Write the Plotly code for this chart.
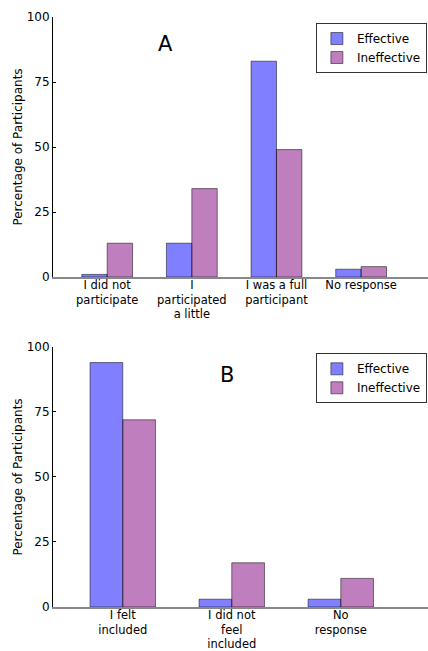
import plotly.graph_objects as go

cats_a = ["I did not<br>participate", "I<br>participated<br>a little", "I was a full<br>participant", "No response"]
eff_a = [1, 13, 83, 3]
ineff_a = [13, 34, 49, 4]

cats_b = ["I felt<br>included", "I did not<br>feel<br>included", "No<br>response"]
eff_b = [94, 3, 3]
ineff_b = [72, 17, 11]

series_names = ["Effective", "Ineffective"]
y_ticks = [0, 25, 50, 75, 100]

blue = "rgba(0,0,255,0.5)"
purple = "rgba(128,0,128,0.5)"
edge = dict(color="rgba(0,0,0,0.5)", width=1)
FONT = "DejaVu Sans"

fig = go.Figure()
fig.add_trace(go.Bar(x=cats_a, y=eff_a, name=series_names[0], marker=dict(color=blue, line=edge),
                     xaxis="x", yaxis="y", legend="legend"))
fig.add_trace(go.Bar(x=cats_a, y=ineff_a, name=series_names[1], marker=dict(color=purple, line=edge),
                     xaxis="x", yaxis="y", legend="legend"))
fig.add_trace(go.Bar(x=cats_b, y=eff_b, name=series_names[0], marker=dict(color=blue, line=edge),
                     xaxis="x2", yaxis="y2", legend="legend2"))
fig.add_trace(go.Bar(x=cats_b, y=ineff_b, name=series_names[1], marker=dict(color=purple, line=edge),
                     xaxis="x2", yaxis="y2", legend="legend2"))

H_TOP, H_BOT = 0.5593, 0.4407

xcommon = dict(showline=True, linecolor="#888888", linewidth=1.5, ticks="", showgrid=False,
               zeroline=False, automargin=False, ticklabelstandoff=-4,
               tickfont=dict(size=11.5, color="black", family=FONT))
ycommon = dict(range=[0, 100], tickvals=y_ticks, ticks="inside", ticklen=3, tickcolor="black",
               showline=True, linecolor="black", linewidth=1, showgrid=False, zeroline=False,
               automargin=False,
               tickfont=dict(size=12, color="black", family=FONT),
               title=dict(text="Percentage of Participants", font=dict(size=12, color="black", family=FONT),
                          standoff=1))

legcommon = dict(x=0.997, xanchor="right", yanchor="top", bgcolor="white", bordercolor="#333333",
                 borderwidth=1, font=dict(size=12, color="black", family=FONT), tracegroupgap=0)

fig.update_layout(
    width=428, height=651,
    margin=dict(l=53, r=0, t=17, b=44, autoexpand=False),
    paper_bgcolor="white", plot_bgcolor="white",
    font=dict(family=FONT, color="black"),
    barmode="group", bargap=0.4, bargroupgap=0,
    xaxis=dict(domain=[0, 1], anchor="y", range=[-0.64, 3.79], **xcommon),
    yaxis=dict(domain=[H_TOP, 1], anchor="x", **ycommon),
    xaxis2=dict(domain=[0, 1], anchor="y2", range=[-0.64, 2.8], **xcommon),
    yaxis2=dict(domain=[0, H_BOT], anchor="x2", **ycommon),
    legend=dict(y=0.9898, **legcommon),
    legend2=dict(y=0.430, **legcommon),
    annotations=[
        dict(text="A", x=0.301, y=0.954, xref="paper", yref="paper", showarrow=False,
             xanchor="center", yanchor="middle",
             font=dict(size=21, color="black", family=FONT)),
        dict(text="B", x=0.464, y=0.3932, xref="paper", yref="paper", showarrow=False,
             xanchor="center", yanchor="middle",
             font=dict(size=21, color="black", family=FONT)),
    ],
)

fig.write_html(
    "out.html",
    config={"displayModeBar": False},
    post_script=(
        "document.body.style.margin='0';"
        "document.body.style.lineHeight='0';"
        "document.documentElement.style.overflow='hidden';"
        "document.querySelectorAll('.svg-container').forEach(function(e){e.style.display='block';});"
    ),
)
